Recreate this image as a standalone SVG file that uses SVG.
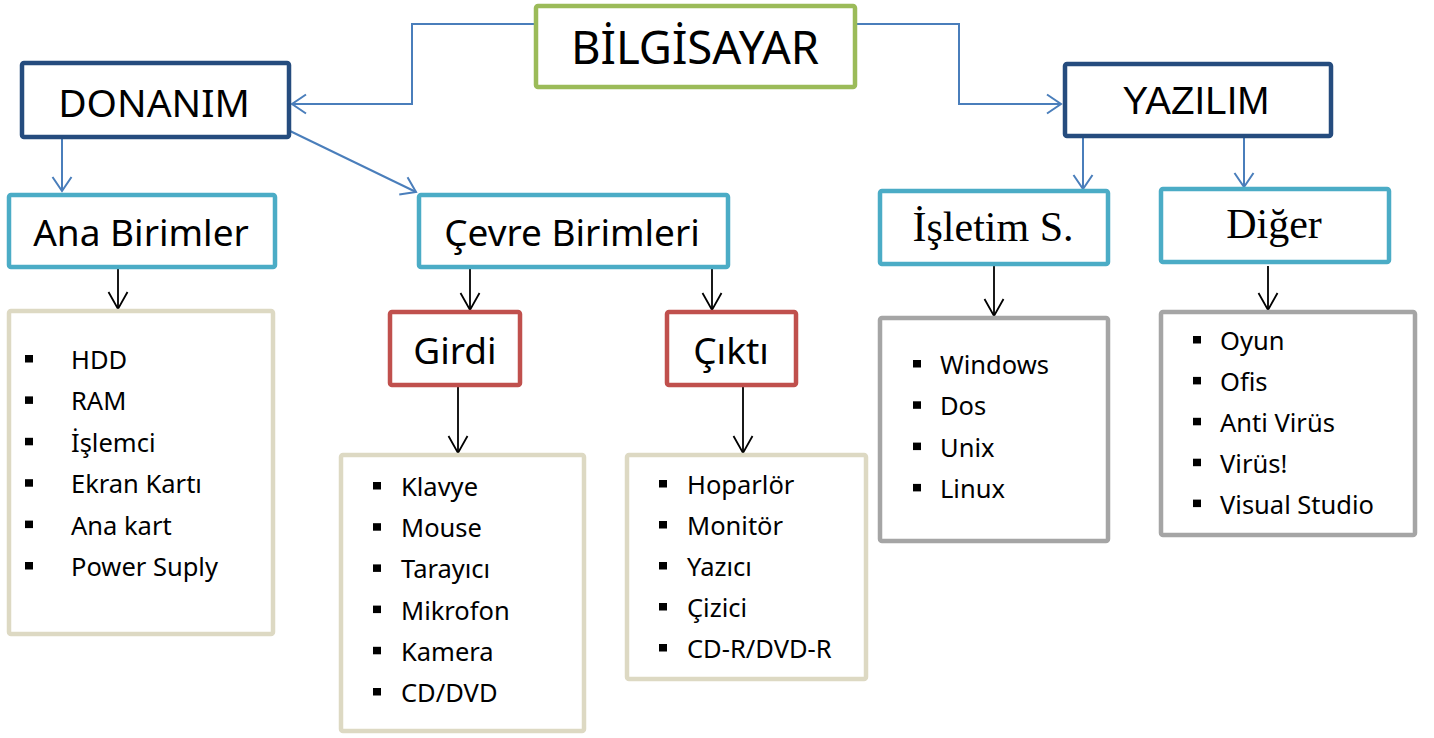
<svg xmlns="http://www.w3.org/2000/svg" width="1434" height="738" viewBox="0 0 1434 738">
<style>
.box{fill:#fff;stroke-width:4.5}
.dk{stroke:#254C7E}
.gr{stroke:#9BBB59}
.cy{stroke:#4BACC6}
.rd{stroke:#C0504D}
.bg{stroke:#DDD9C3}
.gy{stroke:#A5A5A5}
.t{font-family:"Noto Sans","Open Sans",sans-serif;fill:#000;text-anchor:middle}
.ts{font-family:"Liberation Serif","Times New Roman",serif;fill:#000;text-anchor:middle;font-size:42px}
.ta{font-family:"Liberation Sans",Arial,sans-serif;fill:#000;text-anchor:middle}
.li{font-family:"Noto Sans","Open Sans",sans-serif;fill:#000;font-size:25.5px}
.bl{fill:#000}
.cb{fill:none;stroke:#4A7EBB;stroke-width:2}
.ck{fill:none;stroke:#000;stroke-width:1.8}
</style>
<defs>
<marker id="ab" viewBox="-20 -14 24 28" refX="0" refY="0" markerWidth="24" markerHeight="28" markerUnits="userSpaceOnUse" orient="auto">
<path d="M-14,-9.5 L0,0 L-14,9.5" fill="none" stroke="#4A7EBB" stroke-width="2"/>
</marker>
<marker id="ak" viewBox="-20 -14 24 28" refX="0" refY="0" markerWidth="24" markerHeight="28" markerUnits="userSpaceOnUse" orient="auto">
<path d="M-17,-9.5 L0,0 L-17,9.5" fill="none" stroke="#000" stroke-width="1.8"/>
</marker>
</defs>

<g id="connectors">
<path class="cb" d="M536,24 H412 V104 H292" marker-end="url(#ab)"/>
<path class="cb" d="M855,24 H959 V104 H1061" marker-end="url(#ab)"/>
<path class="cb" d="M62,139 V191" marker-end="url(#ab)"/>
<path class="cb" d="M290,131 L416,192" marker-end="url(#ab)"/>
<path class="cb" d="M1083,137 V189" marker-end="url(#ab)"/>
<path class="cb" d="M1244,137 V187" marker-end="url(#ab)"/>
<path class="ck" d="M118,268 V309" marker-end="url(#ak)"/>
<path class="ck" d="M470,268 V310" marker-end="url(#ak)"/>
<path class="ck" d="M712,268 V310" marker-end="url(#ak)"/>
<path class="ck" d="M458,386 V453" marker-end="url(#ak)"/>
<path class="ck" d="M743,386 V453" marker-end="url(#ak)"/>
<path class="ck" d="M994,265 V316" marker-end="url(#ak)"/>
<path class="ck" d="M1268,266 V310" marker-end="url(#ak)"/>
</g>

<g id="bilgisayar">
<rect class="box gr" x="536" y="6" width="319" height="81" rx="2"/>
<text class="t" x="695" y="64" font-size="45.5">BİLGİSAYAR</text>
</g>

<g id="donanim">
<rect class="box dk" x="22" y="63" width="267" height="74" rx="2"/>
<text class="t" x="154" y="117" font-size="39">DONANIM</text>
</g>

<g id="yazilim">
<rect class="box dk" x="1065" y="64" width="266" height="72" rx="2"/>
<text class="ta" x="1196" y="114" font-size="38.5">YAZILIM</text>
</g>

<g id="ana-birimler">
<rect class="box cy" x="9" y="195" width="266" height="72" rx="2"/>
<text class="t" x="141" y="246" font-size="37">Ana Birimler</text>
</g>

<g id="cevre-birimleri">
<rect class="box cy" x="419" y="195" width="309" height="72" rx="2"/>
<text class="t" x="572" y="246" font-size="37">Çevre Birimleri</text>
</g>

<g id="isletim">
<rect class="box cy" x="880" y="191" width="228" height="73" rx="2"/>
<text class="ts" x="993" y="241">İşletim S.</text>
</g>

<g id="diger">
<rect class="box cy" x="1161" y="189" width="228" height="73" rx="2"/>
<text class="ts" x="1274" y="238">Diğer</text>
</g>

<g id="girdi">
<rect class="box rd" x="390" y="312" width="130" height="73" rx="2"/>
<text class="t" x="455" y="364" font-size="37">Girdi</text>
</g>

<g id="cikti">
<rect class="box rd" x="667" y="312" width="129" height="73" rx="2"/>
<text class="t" x="731" y="364" font-size="37">Çıktı</text>
</g>

<g id="ana-liste">
<rect class="box bg" x="9" y="311" width="264" height="323" rx="2"/>
<rect class="bl" x="25" y="355" width="8" height="7.5"/>
<rect class="bl" x="25" y="396.4" width="8" height="7.5"/>
<rect class="bl" x="25" y="437.8" width="8" height="7.5"/>
<rect class="bl" x="25" y="479.2" width="8" height="7.5"/>
<rect class="bl" x="25" y="520.6" width="8" height="7.5"/>
<rect class="bl" x="25" y="562" width="8" height="7.5"/>
<text class="li" x="71" y="369">HDD</text>
<text class="li" x="71" y="410.4">RAM</text>
<text class="li" x="71" y="451.8">İşlemci</text>
<text class="li" x="71" y="493.2">Ekran Kartı</text>
<text class="li" x="71" y="534.6">Ana kart</text>
<text class="li" x="71" y="576">Power Suply</text>
</g>

<g id="girdi-liste">
<rect class="box bg" x="341" y="455" width="243" height="276" rx="2"/>
<rect class="bl" x="373" y="482" width="8" height="7.5"/>
<rect class="bl" x="373" y="523.2" width="8" height="7.5"/>
<rect class="bl" x="373" y="564.4" width="8" height="7.5"/>
<rect class="bl" x="373" y="605.6" width="8" height="7.5"/>
<rect class="bl" x="373" y="646.8" width="8" height="7.5"/>
<rect class="bl" x="373" y="688" width="8" height="7.5"/>
<text class="li" x="401" y="496">Klavye</text>
<text class="li" x="401" y="537.2">Mouse</text>
<text class="li" x="401" y="578.4">Tarayıcı</text>
<text class="li" x="401" y="619.6">Mikrofon</text>
<text class="li" x="401" y="660.8">Kamera</text>
<text class="li" x="401" y="702">CD/DVD</text>
</g>

<g id="cikti-liste">
<rect class="box bg" x="627" y="455" width="239" height="224" rx="2"/>
<rect class="bl" x="659" y="480" width="8" height="7.5"/>
<rect class="bl" x="659" y="521" width="8" height="7.5"/>
<rect class="bl" x="659" y="562" width="8" height="7.5"/>
<rect class="bl" x="659" y="603" width="8" height="7.5"/>
<rect class="bl" x="659" y="644" width="8" height="7.5"/>
<text class="li" x="687" y="494">Hoparlör</text>
<text class="li" x="687" y="535">Monitör</text>
<text class="li" x="687" y="576">Yazıcı</text>
<text class="li" x="687" y="617">Çizici</text>
<text class="li" x="687" y="658">CD-R/DVD-R</text>
</g>

<g id="isletim-liste">
<rect class="box gy" x="880" y="318" width="228" height="223" rx="2"/>
<rect class="bl" x="913" y="360" width="8" height="7.5"/>
<rect class="bl" x="913" y="401.3" width="8" height="7.5"/>
<rect class="bl" x="913" y="442.6" width="8" height="7.5"/>
<rect class="bl" x="913" y="483.9" width="8" height="7.5"/>
<text class="li" x="940" y="374">Windows</text>
<text class="li" x="940" y="415.3">Dos</text>
<text class="li" x="940" y="456.6">Unix</text>
<text class="li" x="940" y="497.9">Linux</text>
</g>

<g id="diger-liste">
<rect class="box gy" x="1161" y="312" width="254" height="223" rx="2"/>
<rect class="bl" x="1193" y="336" width="8" height="7.5"/>
<rect class="bl" x="1193" y="376.9" width="8" height="7.5"/>
<rect class="bl" x="1193" y="417.8" width="8" height="7.5"/>
<rect class="bl" x="1193" y="458.7" width="8" height="7.5"/>
<rect class="bl" x="1193" y="499.6" width="8" height="7.5"/>
<text class="li" x="1220" y="350">Oyun</text>
<text class="li" x="1220" y="390.9">Ofis</text>
<text class="li" x="1220" y="431.8">Anti Virüs</text>
<text class="li" x="1220" y="472.7">Virüs!</text>
<text class="li" x="1220" y="513.6">Visual Studio</text>
</g>
</svg>
